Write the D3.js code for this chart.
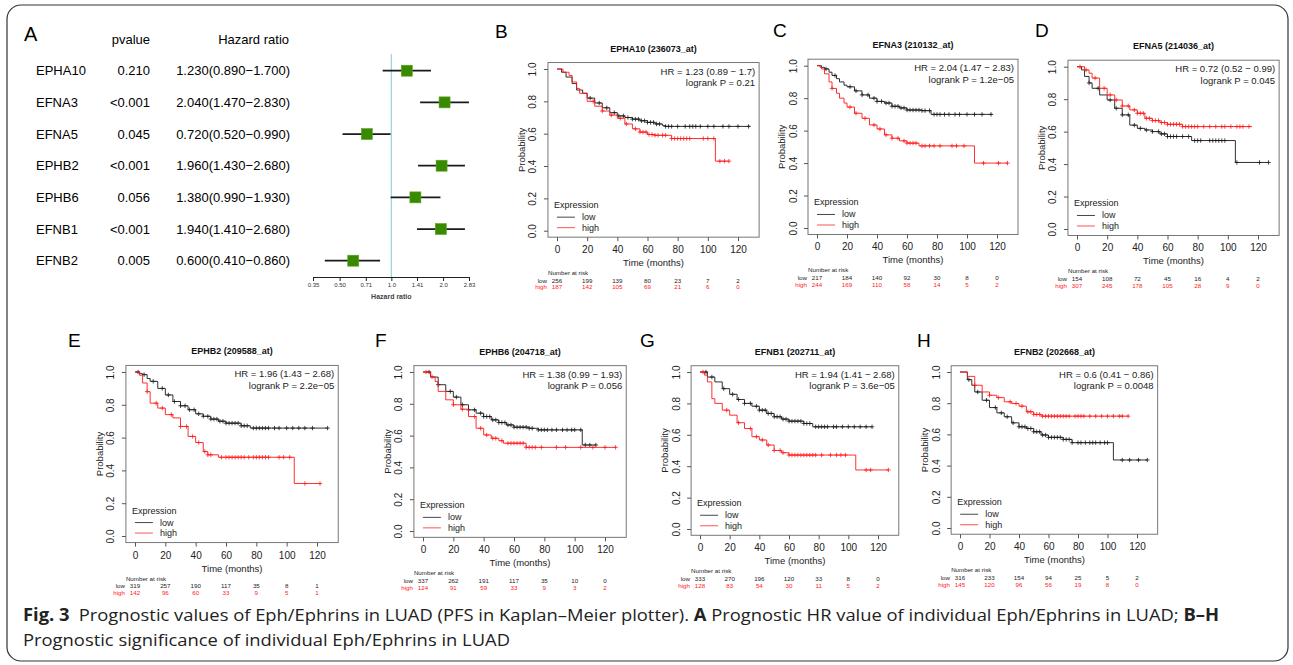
<!DOCTYPE html>
<html>
<head>
<meta charset="utf-8">
<script src="https://cdn.jsdelivr.net/npm/d3@7"></script>
<style>
  body { margin: 0; background: #fff; }
  svg { display: block; font-family: "Liberation Sans", Arial, sans-serif; }
</style>
</head>
<body>
<svg id="fig" width="1293" height="665"></svg>
<script>
// ---- panel A: forest plot data ----
const genes = ['EPHA10', 'EFNA3', 'EFNA5', 'EPHB2', 'EPHB6', 'EFNB1', 'EFNB2'];
const pvalues = ['0.210', '<0.001', '0.045', '<0.001', '0.056', '<0.001', '0.005'];
const hrValues = [1.23, 2.04, 0.72, 1.96, 1.38, 1.94, 0.60];
const hrLower = [0.89, 1.47, 0.52, 1.43, 0.99, 1.41, 0.41];
const hrUpper = [1.70, 2.83, 0.99, 2.68, 1.93, 2.68, 0.86];
const hrTicks = [0.35, 0.50, 0.71, 1.0, 1.41, 2.0, 2.83];
const hrTickLabels = ['0.35', '0.50', '0.71', '1.0', '1.41', '2.0', '2.83'];

// ---- KM curves: [time, survival] step points, censor times ----
const epha10Low = [[0,1],[3,0.98],[6,0.95],[10,0.91],[13,0.87],[17,0.85],[20,0.82],[25,0.79],[30,0.76],[35,0.73],[40,0.71],[45,0.70],[50,0.69],[55,0.68],[60,0.67],[65,0.66],[70,0.65],[72,0.645],[128,0.645]];
const epha10High = [[0,1],[4,0.98],[8,0.96],[10,0.92],[13,0.88],[15,0.85],[20,0.80],[25,0.77],[30,0.74],[35,0.715],[40,0.695],[45,0.66],[50,0.63],[55,0.61],[60,0.595],[65,0.59],[76,0.57],[105,0.43],[114,0.43]];
const epha10LowCens = [22,28,33,38,41,44,47,50,52,54,56,58,60,62,64,66,68,72,74,76,80,85,88,90,92,95,100,104,110,114,120,127];
const epha10HighCens = [24,30,36,42,46,52,55,57,59,61,63,65,67,70,72,76,78,80,82,84,86,88,97,100,104,108,111,114];

const efna3Low = [[0,1],[3,0.99],[5,0.98],[8,0.96],[10,0.94],[13,0.92],[15,0.90],[18,0.88],[20,0.87],[25,0.845],[30,0.82],[35,0.80],[40,0.78],[45,0.77],[50,0.75],[55,0.74],[60,0.727],[70,0.723],[76,0.70],[117,0.70]];
const efna3High = [[0,1],[2,0.99],[3,0.98],[5,0.95],[8,0.90],[10,0.86],[13,0.83],[15,0.80],[18,0.77],[20,0.745],[25,0.707],[30,0.676],[35,0.635],[40,0.61],[45,0.574],[50,0.553],[55,0.537],[60,0.523],[68,0.506],[105,0.40],[127,0.40]];
const efna3LowCens = [6,12,22,26,30,34,38,40,43,46,48,50,52,54,56,58,60,62,64,66,68,70,72,75,78,80,82,85,88,92,95,100,105,110,116];
const efna3HighCens = [10,22,26,32,38,42,46,50,54,58,60,62,64,66,70,72,75,78,82,90,93,98,111,121,127];

const efna5Low = [[0,1],[3,0.98],[5,0.94],[8,0.90],[10,0.867],[15,0.826],[20,0.795],[25,0.744],[30,0.703],[35,0.64],[40,0.62],[45,0.61],[50,0.60],[55,0.586],[60,0.57],[76,0.545],[105,0.41],[127,0.41]];
const efna5High = [[0,1],[5,0.98],[8,0.96],[10,0.93],[15,0.867],[20,0.826],[25,0.795],[30,0.758],[35,0.734],[40,0.713],[45,0.682],[50,0.668],[55,0.656],[60,0.645],[70,0.631],[116,0.631]];
const efna5LowCens = [8,14,22,26,30,34,38,42,46,50,54,56,58,60,62,64,66,70,74,78,80,82,88,90,92,94,96,98,106,121,127];
const efna5HighCens = [2,6,12,18,22,26,30,34,38,40,42,44,46,48,50,52,54,56,58,60,62,64,66,68,70,72,74,76,78,80,84,88,92,96,98,102,106,108,110,114];

const ephb2Low = [[0,1],[3,0.99],[5,0.984],[8,0.96],[10,0.943],[15,0.90],[20,0.86],[25,0.82],[30,0.794],[35,0.77],[40,0.745],[45,0.73],[50,0.713],[55,0.70],[60,0.688],[70,0.672],[76,0.658],[127,0.658]];
const ephb2High = [[0,1],[3,0.98],[5,0.933],[8,0.88],[10,0.81],[15,0.78],[20,0.74],[25,0.72],[30,0.668],[35,0.607],[40,0.57],[45,0.515],[48,0.495],[55,0.48],[105,0.32],[122,0.32]];
const ephb2LowCens = [2,6,12,18,22,26,30,33,36,39,42,45,48,50,52,54,56,58,60,62,64,66,68,70,72,74,78,80,82,84,86,88,92,95,100,104,108,112,117,127];
const ephb2HighCens = [8,14,18,24,30,34,38,42,46,48,50,57,60,62,64,66,68,70,72,75,78,80,82,84,86,88,95,98,102,112,122];

const ephb6Low = [[0,1],[5,0.968],[10,0.92],[15,0.878],[20,0.842],[25,0.794],[30,0.762],[35,0.741],[40,0.72],[45,0.699],[50,0.682],[55,0.667],[60,0.653],[70,0.646],[76,0.636],[105,0.541],[114,0.541]];
const ephb6High = [[0,1],[5,0.97],[8,0.94],[10,0.878],[15,0.825],[20,0.794],[25,0.766],[30,0.72],[35,0.646],[40,0.604],[45,0.583],[50,0.568],[53,0.552],[68,0.526],[127,0.526]];
const ephb6LowCens = [4,10,18,22,26,30,34,38,40,42,44,46,48,50,52,54,56,58,60,62,64,66,68,70,72,76,78,80,82,85,88,92,95,98,100,104,107,110,114];
const ephb6HighCens = [2,6,20,26,34,38,42,46,48,52,56,58,60,62,64,66,68,70,72,74,78,88,94,104,112,120,127];

const efnb1Low = [[0,1],[5,0.968],[10,0.937],[15,0.894],[20,0.858],[25,0.825],[30,0.80],[35,0.782],[40,0.757],[45,0.736],[50,0.715],[55,0.70],[60,0.687],[70,0.672],[76,0.651],[116,0.651]];
const efnb1High = [[0,1],[3,0.98],[5,0.937],[8,0.83],[10,0.80],[15,0.757],[20,0.725],[25,0.677],[30,0.64],[35,0.588],[40,0.567],[45,0.535],[50,0.50],[55,0.486],[60,0.471],[105,0.376],[127,0.376]];
const efnb1LowCens = [4,8,16,22,26,30,34,38,40,42,44,46,48,50,52,54,56,58,60,62,64,66,68,70,72,74,78,80,82,84,86,90,92,96,100,104,108,112,116];
const efnb1HighCens = [2,18,26,34,38,42,46,50,54,56,60,62,64,66,68,70,72,74,76,78,82,88,92,95,98,112,115,127];

const efnb2Low = [[0,1],[5,0.951],[8,0.915],[10,0.872],[15,0.819],[20,0.772],[25,0.738],[30,0.713],[35,0.674],[40,0.649],[45,0.638],[50,0.617],[55,0.596],[60,0.581],[70,0.568],[76,0.547],[104,0.436],[127,0.436]];
const efnb2High = [[0,1],[5,0.972],[10,0.915],[15,0.872],[20,0.851],[25,0.836],[30,0.809],[35,0.798],[40,0.781],[45,0.745],[50,0.728],[55,0.717],[114,0.717]];
const efnb2LowCens = [6,12,18,24,28,32,36,40,42,44,46,48,50,52,54,56,58,60,62,64,66,68,70,72,74,76,80,82,85,88,90,92,95,98,100,110,115,121,127];
const efnb2HighCens = [10,20,26,34,38,42,46,48,50,52,54,56,58,60,62,64,66,68,70,72,74,78,80,82,84,88,92,96,100,104,108,110,114];

// numbers at risk at 0,20,...,120
const riskTimes = [0, 20, 40, 60, 80, 100, 120];
const epha10Risk = [[256,199,139,80,23,7,2],[187,142,105,69,21,6,0]];
const efna3Risk = [[217,184,140,92,30,8,0],[244,169,110,58,14,5,2]];
const efna5Risk = [[154,108,72,45,16,4,2],[307,245,178,105,28,9,0]];
const ephb2Risk = [[319,257,190,117,35,8,1],[142,96,60,33,9,5,1]];
const ephb6Risk = [[337,262,191,117,35,10,0],[124,91,59,33,9,3,2]];
const efnb1Risk = [[333,270,196,120,33,8,0],[128,83,54,30,11,5,2]];
const efnb2Risk = [[316,233,154,94,25,5,2],[145,120,96,56,19,8,0]];

const kmTitles = ['EPHA10 (236073_at)', 'EFNA3 (210132_at)', 'EFNA5 (214036_at)', 'EPHB2 (209588_at)', 'EPHB6 (204718_at)', 'EFNB1 (202711_at)', 'EFNB2 (202668_at)'];
const hrLabels = ['HR = 1.23 (0.89 \u2212 1.7)', 'HR = 2.04 (1.47 \u2212 2.83)', 'HR = 0.72 (0.52 \u2212 0.99)', 'HR = 1.96 (1.43 \u2212 2.68)', 'HR = 1.38 (0.99 \u2212 1.93)', 'HR = 1.94 (1.41 \u2212 2.68)', 'HR = 0.6 (0.41 \u2212 0.86)'];
const logrankLabels = ['logrank P = 0.21', 'logrank P = 1.2e\u221205', 'logrank P = 0.045', 'logrank P = 2.2e\u221205', 'logrank P = 0.056', 'logrank P = 3.6e\u221205', 'logrank P = 0.0048'];
const panelLetters = ['B', 'C', 'D', 'E', 'F', 'G', 'H'];

const kmData = [
  { low: epha10Low, high: epha10High, lowC: epha10LowCens, highC: epha10HighCens, risk: epha10Risk },
  { low: efna3Low, high: efna3High, lowC: efna3LowCens, highC: efna3HighCens, risk: efna3Risk },
  { low: efna5Low, high: efna5High, lowC: efna5LowCens, highC: efna5HighCens, risk: efna5Risk },
  { low: ephb2Low, high: ephb2High, lowC: ephb2LowCens, highC: ephb2HighCens, risk: ephb2Risk },
  { low: ephb6Low, high: ephb6High, lowC: ephb6LowCens, highC: ephb6HighCens, risk: ephb6Risk },
  { low: efnb1Low, high: efnb1High, lowC: efnb1LowCens, highC: efnb1HighCens, risk: efnb1Risk },
  { low: efnb2Low, high: efnb2High, lowC: efnb2LowCens, highC: efnb2HighCens, risk: efnb2Risk },
];

// pixel anchors: where month 0 / month 120 and survival 1.0 / 0.0 sit, plus the letter spot
const layout = [
  { x0: 557, x120: 738, y1: 69, y0: 230.7, lx: 495, ly: 38 },
  { x0: 817, x120: 997, y1: 65.7, y0: 228, lx: 773, ly: 37 },
  { x0: 1077, x120: 1258, y1: 66.7, y0: 229, lx: 1035, ly: 37 },
  { x0: 135, x120: 317, y1: 372, y0: 536, lx: 68, ly: 347 },
  { x0: 423, x120: 605, y1: 372, y0: 531, lx: 375, ly: 347 },
  { x0: 700, x120: 878, y1: 372, y0: 529, lx: 640, ly: 347 },
  { x0: 960, x120: 1137, y1: 372, y0: 528, lx: 917, ly: 347 },
];

const svg = d3.select('#fig');

// outer frame
svg.append('rect')
  .attr('x', 7).attr('y', 5).attr('width', 1281).attr('height', 656)
  .attr('rx', 14)
  .attr('fill', 'none').attr('stroke', '#333').attr('stroke-width', 1.2);

// ---------------- panel A ----------------
const rowY = d3.scaleLinear().domain([0, 6]).range([70.7, 260.7]);
const hrX = d3.scaleLog().domain([0.35, 2.83]).range([313, 469]);
const A = svg.append('g');

A.append('text').attr('x', 24).attr('y', 41).attr('font-size', 20).text('A');
A.append('text').attr('x', 150).attr('y', 44).attr('text-anchor', 'end').attr('font-size', 13).text('pvalue');
A.append('text').attr('x', 289).attr('y', 44).attr('text-anchor', 'end').attr('font-size', 13).text('Hazard ratio');

const fmt3 = d3.format('.3f');
genes.forEach((g, i) => {
  const y = rowY(i) + 4.5;
  A.append('text').attr('x', 36).attr('y', y).attr('font-size', 13).text(g);
  A.append('text').attr('x', 150).attr('y', y).attr('text-anchor', 'end').attr('font-size', 13).text(pvalues[i]);
  A.append('text').attr('x', 290).attr('y', y).attr('text-anchor', 'end').attr('font-size', 13)
    .text(`${fmt3(hrValues[i])}(${fmt3(hrLower[i])}\u2212${fmt3(hrUpper[i])})`);
});

// reference line at HR = 1
A.append('line')
  .attr('x1', hrX(1)).attr('x2', hrX(1)).attr('y1', 54).attr('y2', 277)
  .attr('stroke', '#9fd0df').attr('stroke-width', 1.2);

A.selectAll('.ci').data(genes).enter().append('line')
  .attr('x1', (d, i) => hrX(hrLower[i])).attr('x2', (d, i) => hrX(hrUpper[i]))
  .attr('y1', (d, i) => rowY(i)).attr('y2', (d, i) => rowY(i))
  .attr('stroke', '#1a1a1a').attr('stroke-width', 1.8);

A.selectAll('.box').data(genes).enter().append('rect')
  .attr('x', (d, i) => hrX(hrValues[i]) - 5.5).attr('y', (d, i) => rowY(i) - 5.5)
  .attr('width', 11).attr('height', 11)
  .attr('fill', '#3a8a00').attr('stroke', '#5aa62a').attr('stroke-width', 0.6);

const hrAxis = d3.axisBottom(hrX).tickValues(hrTicks).tickFormat((d, i) => hrTickLabels[i]).tickSize(4).tickSizeOuter(0);
const ax = A.append('g').attr('transform', 'translate(0,277)').call(hrAxis);
ax.select('.domain').attr('stroke', '#222');
ax.selectAll('.tick line').attr('stroke', '#222');
ax.selectAll('.tick text').attr('font-size', 6).attr('fill', '#333').attr('dy', '0.55em')
  .attr('font-family', '"Liberation Sans", Arial, sans-serif');
A.append('text').attr('x', hrX(1)).attr('y', 299).attr('text-anchor', 'middle')
  .attr('font-size', 7).attr('font-weight', 'bold').attr('fill', '#444').text('Hazard ratio');

// ---------------- KM panels ----------------
function survAt(curve, t) {
  let s = 1;
  for (const [ti, si] of curve) { if (ti <= t) s = si; else break; }
  return s;
}

kmData.forEach((d, k) => {
  const L = layout[k];
  const x = d3.scaleLinear().domain([0, 120]).range([L.x0, L.x120]);
  const y = d3.scaleLinear().domain([0, 1]).range([L.y0, L.y1]);
  const left = x(-6), right = x(134), top = y(1.04), bottom = y(-0.04);
  const g = svg.append('g');

  g.append('text').attr('x', L.lx).attr('y', L.ly).attr('font-size', 19).text(panelLetters[k]);
  g.append('text').attr('x', (left + right) / 2).attr('y', top - 11).attr('text-anchor', 'middle')
    .attr('font-size', 9).attr('font-weight', 'bold').attr('fill', '#111').text(kmTitles[k]);

  g.append('rect').attr('x', left).attr('y', top).attr('width', right - left).attr('height', bottom - top)
    .attr('fill', 'none').attr('stroke', '#777').attr('stroke-width', 1);

  // x axis
  const xa = g.append('g').attr('transform', `translate(0,${bottom})`)
    .call(d3.axisBottom(x).tickValues(riskTimes).tickSize(4).tickSizeOuter(0));
  xa.select('.domain').remove();
  xa.selectAll('.tick line').attr('stroke', '#555');
  xa.selectAll('.tick text').attr('font-size', 10).attr('fill', '#222').attr('dy', 0).attr('y', 16)
    .attr('font-family', '"Liberation Sans", Arial, sans-serif');

  // y axis with vertical labels
  const ya = g.append('g').attr('transform', `translate(${left},0)`)
    .call(d3.axisLeft(y).tickValues([0, 0.2, 0.4, 0.6, 0.8, 1.0]).tickFormat(d3.format('.1f')).tickSize(4).tickSizeOuter(0));
  ya.select('.domain').remove();
  ya.selectAll('.tick line').attr('stroke', '#555');
  ya.selectAll('.tick text')
    .attr('font-size', 10).attr('fill', '#222').attr('x', null).attr('dy', null)
    .attr('text-anchor', 'middle').attr('transform', 'translate(-11.5,0) rotate(-90)')
    .attr('font-family', '"Liberation Sans", Arial, sans-serif');

  g.append('text').attr('transform', `translate(${left - 23},${(top + bottom) / 2}) rotate(-90)`)
    .attr('text-anchor', 'middle').attr('font-size', 9.5).attr('fill', '#222').text('Probability');
  g.append('text').attr('x', (left + right) / 2).attr('y', bottom + 29).attr('text-anchor', 'middle')
    .attr('font-size', 9.5).attr('fill', '#222').text('Time (months)');

  // curves
  const line = d3.line().x(p => x(p[0])).y(p => y(p[1])).curve(d3.curveStepAfter);
  [['low', 'lowC', '#1a1a1a'], ['high', 'highC', '#ff1a1a']].forEach(([key, ckey, col]) => {
    g.append('path').attr('d', line(d[key])).attr('fill', 'none').attr('stroke', col).attr('stroke-width', 0.9);
    g.append('g').selectAll('path').data(d[ckey]).enter().append('path')
      .attr('d', t => {
        const cx = x(t), cy = y(survAt(d[key], t));
        return `M${cx - 2.2},${cy}H${cx + 2.2}M${cx},${cy - 2.2}V${cy + 2.2}`;
      })
      .attr('stroke', col).attr('stroke-width', 0.8);
  });

  // HR annotation
  g.append('text').attr('x', right - 4).attr('y', top + 12).attr('text-anchor', 'end')
    .attr('font-size', 9.5).attr('fill', '#222').text(hrLabels[k]);
  g.append('text').attr('x', right - 4).attr('y', top + 23.5).attr('text-anchor', 'end')
    .attr('font-size', 9.5).attr('fill', '#222').text(logrankLabels[k]);

  // legend
  g.append('text').attr('x', left + 6).attr('y', bottom - 29).attr('font-size', 9).attr('fill', '#222').text('Expression');
  [['low', '#333', bottom - 17], ['high', '#ff4040', bottom - 6.5]].forEach(([lab, col, yy]) => {
    g.append('line').attr('x1', left + 9).attr('x2', left + 27).attr('y1', yy - 3).attr('y2', yy - 3)
      .attr('stroke', col).attr('stroke-width', 0.9);
    g.append('text').attr('x', left + 34).attr('y', yy).attr('font-size', 9).attr('fill', '#222').text(lab);
  });

  // numbers at risk
  g.append('text').attr('x', left).attr('y', bottom + 38).attr('font-size', 6.2).attr('fill', '#222').text('Number at risk');
  ['low', 'high'].forEach((lab, r) => {
    const col = r === 0 ? '#222' : '#ff1a1a';
    const yy = bottom + 45.5 + r * 6.8;
    g.append('text').attr('x', x(0) - 10).attr('y', yy).attr('text-anchor', 'end')
      .attr('font-size', 6.2).attr('fill', col).text(lab);
    g.append('g').selectAll('text').data(d.risk[r]).enter().append('text')
      .attr('x', (v, i) => x(riskTimes[i])).attr('y', yy).attr('text-anchor', 'middle')
      .attr('font-size', 6.2).attr('fill', col).text(v => v);
  });
});

// ---------------- caption ----------------
const cap1 = svg.append('text').attr('x', 23).attr('y', 621).attr('font-size', 17)
  .attr('font-family', '"Open Sans", "Noto Sans", sans-serif').attr('fill', '#222')
  .attr('textLength', 1196).attr('lengthAdjust', 'spacingAndGlyphs');
cap1.append('tspan').attr('font-weight', 'bold').text('Fig. 3');
cap1.append('tspan').text('\u2002Prognostic values of Eph/Ephrins in LUAD (PFS in Kaplan\u2013Meier plotter). ');
cap1.append('tspan').attr('font-weight', 'bold').text('A');
cap1.append('tspan').text(' Prognostic HR value of individual Eph/Ephrins in LUAD; ');
cap1.append('tspan').attr('font-weight', 'bold').text('B\u2013H');

svg.append('text').attr('x', 23).attr('y', 646).attr('font-size', 17)
  .attr('font-family', '"Open Sans", "Noto Sans", sans-serif').attr('fill', '#222')
  .attr('textLength', 487).attr('lengthAdjust', 'spacingAndGlyphs')
  .text('Prognostic significance of individual Eph/Ephrins in LUAD');
</script>
</body>
</html>
